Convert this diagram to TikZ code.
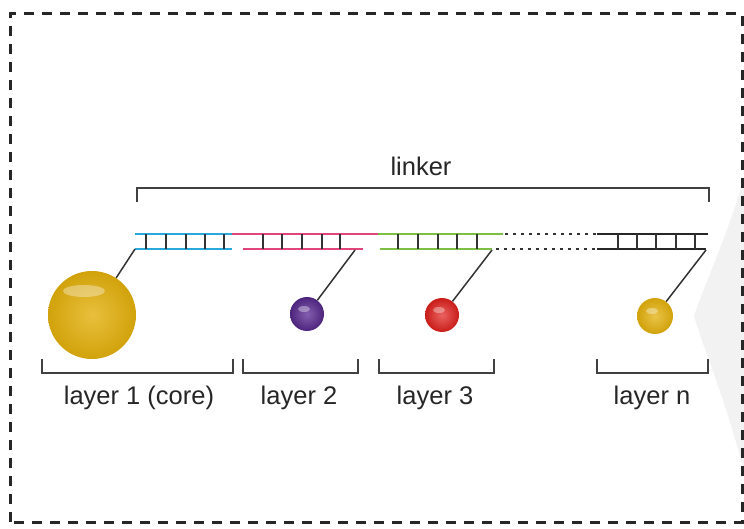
\documentclass[tikz,border=0pt]{standalone}
\usepackage{fontspec}
\setmainfont{Liberation Sans}
\definecolor{strandcyan}{HTML}{2AA8DC}
\definecolor{strandpink}{HTML}{E2457C}
\definecolor{strandgreen}{HTML}{7DBE45}
\definecolor{goldball}{HTML}{E3B00C}
\definecolor{purpleball}{HTML}{5A2A93}
\definecolor{redball}{HTML}{E0201C}
\begin{document}
\begin{tikzpicture}[x=1pt,y=-1pt,
  lbl/.style={font=\fontsize{25.5}{30}\selectfont, text=black!85, inner sep=0pt},
  strand/.style={line width=2pt},
  rung/.style={line width=1.8pt, draw=black!80},
  brk/.style={line width=1.7pt, draw=black!75},
  tether/.style={line width=1.5pt, draw=black!80},
  ballnode/.style={circle, inner sep=0pt, shading=radial},
  shine/.style={white, opacity=0.35},
]
\useasboundingbox (0,0) rectangle (744,529);

% faint grey wedge at the right edge
\fill[gray!10] (744,178) .. controls (726,240) and (702,290) .. (694,316)
  .. controls (702,345) and (726,400) .. (744,472) -- cycle;

% dashed frame
\draw[line width=3pt, dash pattern=on 10pt off 8pt, black!85]
  (10,522) -- (10,14) -- (742,14) -- (742,522) -- cycle;

% linker bracket
\node[lbl] (linker) at (421,166) {linker};
\draw[brk] (137,202) -- (137,188) -- (709,188) -- (709,202);

% ladder segments of the linker
\draw[strand, strandcyan] (135,234) -- (232,234) (135,249) -- (232,249);
\foreach \x in {146,166,186,205,224} \draw[rung] (\x,234) -- (\x,249);
\draw[strand, strandpink] (232,234) -- (378,234) (243,249) -- (363,249);
\foreach \x in {263,282,302,322,340} \draw[rung] (\x,234) -- (\x,249);
\draw[strand, strandgreen] (378,234) -- (503,234) (380,249) -- (492,249);
\foreach \x in {398,418,438,457,477} \draw[rung] (\x,234) -- (\x,249);
\draw[strand, black!80, dash pattern=on 3pt off 5pt] (505,234) -- (596,234) (496,249) -- (596,249);
\draw[strand, black!85] (597,234) -- (708,234) (597,249) -- (706,249);
\foreach \x in {618,637,656,676,695} \draw[rung] (\x,234) -- (\x,249);

% attachment points on the strands
\coordinate (a1) at (135,249);
\coordinate (a2) at (355,250);
\coordinate (a3) at (492,250);
\coordinate (a4) at (706,250);

% particles
\node[ballnode, minimum size=88pt, inner color=goldball!80!white, outer color=goldball!92!black] (core) at (92,315) {};
\fill[shine] (84,291) ellipse [x radius=21pt, y radius=6pt];
\node[ballnode, minimum size=34pt, inner color=purpleball!75!white, outer color=purpleball!85!black] (p2) at (307,314) {};
\fill[shine] (304,309) ellipse [x radius=6pt, y radius=3pt];
\node[ballnode, minimum size=34pt, inner color=redball!70!white, outer color=redball!90!black] (p3) at (442,315) {};
\fill[shine] (439,310) ellipse [x radius=6pt, y radius=3pt];
\node[ballnode, minimum size=36pt, inner color=goldball!75!white, outer color=goldball!92!black] (pn) at (655,316) {};
\fill[shine] (652,311) ellipse [x radius=6pt, y radius=3pt];

% tethers from strands to particles
\draw[tether] (a1) -- (core);
\draw[tether] (a2) -- (p2);
\draw[tether] (a3) -- (p3);
\draw[tether] (a4) -- (pn);

% layer brackets and labels
\draw[brk] (42,359) -- (42,373) -- (233,373) -- (233,359);
\draw[brk] (243,359) -- (243,373) -- (358,373) -- (358,359);
\draw[brk] (379,359) -- (379,373) -- (494,373) -- (494,359);
\draw[brk] (597,359) -- (597,373) -- (708,373) -- (708,359);
\node[lbl] (l1) at (139,398) {layer 1 (core)};
\node[lbl] (l2) at (299,398) {layer 2};
\node[lbl] (l3) at (435,398) {layer 3};
\node[lbl] (ln) at (652,398) {layer n};
\end{tikzpicture}
\end{document}
